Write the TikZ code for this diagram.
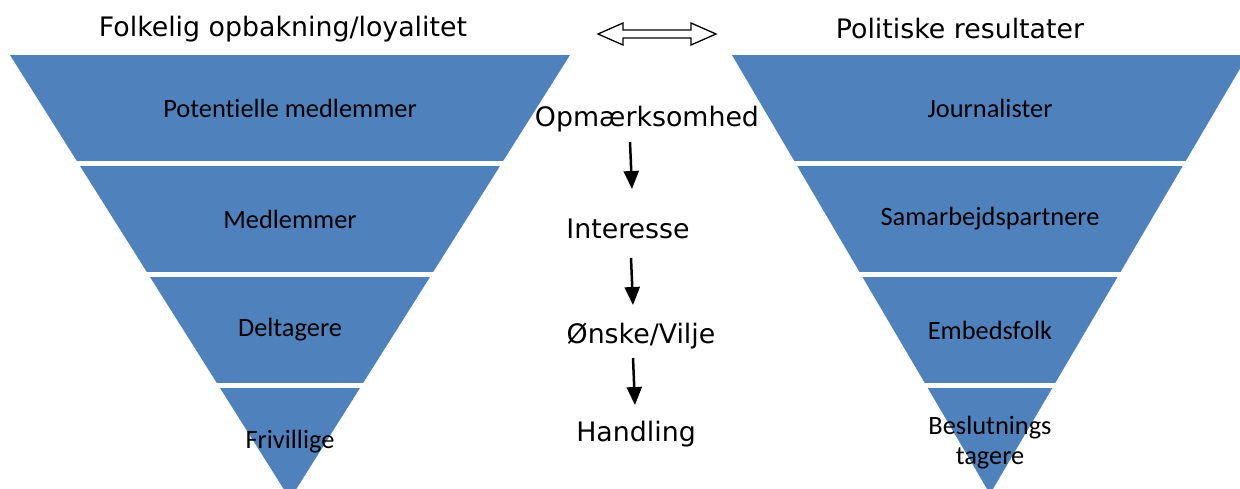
\documentclass[tikz,border=0pt]{standalone}
\usepackage{fontspec}
\setmainfont{Carlito}[Ligatures=NoCommon]
\newfontfamily\headfont{DejaVu Sans}
\usetikzlibrary{arrows.meta}
\definecolor{bandblue}{HTML}{4F81BD}
\tikzset{
  bandlabel/.style={font=\fontsize{26.4}{30}\selectfont, align=center},
  heading/.style={font=\headfont\fontsize{26.8}{30}\selectfont},
  phase/.style={font=\headfont\fontsize{26.8}{30}\selectfont},
  flowarrow/.style={line width=2.5pt,-{Triangle[length=18pt,width=15pt]}}
}
\begin{document}
\begin{tikzpicture}[x=1pt,y=-1pt]
        \useasboundingbox (0,0) rectangle (1240,488);
        \clip (0,0) rectangle (1240,488);
        % the two funnels, cut into bands
        \fill[bandblue] (10,55) -- (570,55) -- (290,499) -- cycle;
        \fill[bandblue] (732,55) -- (1248,55) -- (990,494) -- cycle;
        \foreach \y in {161,272,383}
            \fill[white] (0,\y) rectangle (1240,\y+5);
        \node[heading] (lhead) at (283,29) {Folkelig opbakning/loyalitet};
        \node[heading] (rhead) at (960,29) {Politiske resultater};
        \draw[line width=1.3pt,line join=miter] (598,34) -- (623,23) -- (623,30) -- (691,30) -- (691,23)
            -- (716,34) -- (691,45) -- (691,38) -- (623,38) -- (623,45) -- cycle;
        % left funnel
        \node[bandlabel] (potential) at (290,108) {Potentielle medlemmer};
        \node[bandlabel] (members) at (290,219) {Medlemmer};
        \node[bandlabel] (participants) at (290,330) {Deltagere};
        \node[bandlabel] (volunteers) at (290,442) {Frivillige};
        % right funnel
        \node[bandlabel] (journalists) at (990,108) {Journalister};
        \node[bandlabel] (partners) at (990,219) {Samarbejdspartnere};
        \node[bandlabel] (officials) at (990,330) {Embedsfolk};
        \node[bandlabel] (deciders) at (990,443) {Beslutnings\\tagere};
        % stages in the middle
        \node[phase] (attention) at (647,119) {Opmærksomhed};
        \node[phase] (interest) at (628,229) {Interesse};
        \node[phase] (desire) at (641,336) {Ønske/Vilje};
        \node[phase] (action) at (636,434) {Handling};
        \coordinate (s1) at (630,142); \coordinate (e1) at (632,189);
        \coordinate (s2) at (631,258); \coordinate (e2) at (633,305);
        \coordinate (s3) at (633,358); \coordinate (e3) at (635,405);
        \foreach \i in {1,2,3}
            \draw[flowarrow] (s\i) -- (e\i);
    \end{tikzpicture}
\end{document}
